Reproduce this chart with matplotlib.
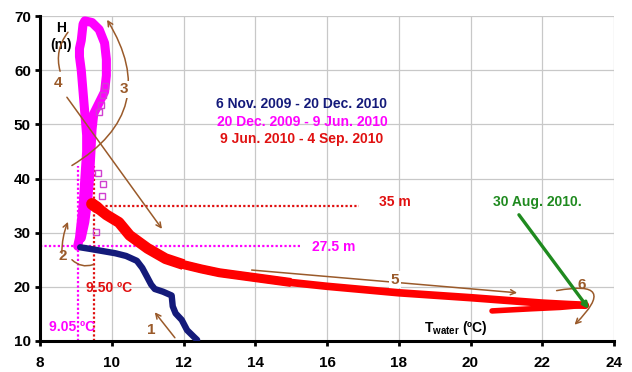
import matplotlib.pyplot as plt

plt.rcParams["font.family"] = ["Liberation Sans", "DejaVu Sans"]
plt.rcParams["font.weight"] = "bold"
plt.rcParams["mathtext.fontset"] = "custom"
plt.rcParams["mathtext.rm"] = "Liberation Sans:bold"
plt.rcParams["mathtext.bf"] = "Liberation Sans:bold"

# 6 Nov. 2009 - 20 Dec. 2010
blue_t = [9.12, 9.4, 9.75, 10.1, 10.4, 10.7, 10.85, 10.98, 11.1, 11.2, 11.43,
          11.67, 11.7, 11.78, 11.95, 12.1, 12.3, 12.38]
blue_h = [27.3, 27.0, 26.6, 26.2, 25.7, 24.8, 23.5, 21.9, 20.4, 19.6, 19.1,
          18.4, 16.4, 15.1, 13.9, 12.0, 10.7, 10.2]

# 20 Dec. 2009 - 9 Jun. 2010
mag_t = [9.05, 9.1, 9.15, 9.2, 9.25, 9.3, 9.3, 9.25, 9.2, 9.15, 9.1, 9.1,
         9.15, 9.2, 9.25, 9.45, 9.65, 9.8, 9.85, 9.85, 9.8, 9.65, 9.5,
         9.45, 9.42, 9.38, 9.33, 9.25, 9.15]
mag_h = [27.5, 29, 32, 35, 40, 45, 48, 52, 56, 60, 62.5, 64, 65.5, 68.5,
         69.1, 68.8, 67.5, 65, 62, 59, 56, 54, 52, 49, 45, 40, 36, 32, 29]
mag_sq_t = [9.62, 9.75, 9.72, 9.55, 9.75, 9.7, 9.82, 9.65]
mag_sq_h = [41.0, 39.0, 36.8, 30.1, 55.5, 53.5, 57.0, 52.3]

# 9 Jun. 2010 - 4 Sep. 2010 (warming branch, then the return after 30 Aug.)
red_t = [9.45, 9.6, 9.85, 10.2, 10.5, 11.0, 11.5, 12.0, 12.5, 13.0, 14.0,
         15.0, 16.0, 17.0, 18.0, 19.0, 20.0, 21.0, 22.0, 22.7, 23.2,
         22.5, 21.7, 21.0, 20.6]
red_h = [35.3, 34.6, 33.3, 31.9, 29.5, 27.1, 25.2, 24.1, 23.3, 22.6, 21.7,
         20.8, 20.1, 19.5, 18.9, 18.45, 18.0, 17.5, 17.0, 16.75, 16.6,
         16.2, 15.95, 15.7, 15.55]
red_turn = 20

x_ticks = [8, 10, 12, 14, 16, 18, 20, 22, 24]
y_ticks = [10, 20, 30, 40, 50, 60, 70]

t_mix_winter = 9.05
t_mix_summer = 9.50
h_mix_winter = 27.5
h_mix_summer = 35

NAVY = "#141a7a"
MAGENTA = "#ff00ff"
RED = "#ff0000"
BROWN = "#9a5a2a"
GREEN = "#1f8a1f"

fig = plt.figure(figsize=(6.32, 3.72), dpi=100)
ax = fig.add_axes([40 / 632, 31 / 372, 574 / 632, 325 / 372])

ax.set_xlim(8, 24)
ax.set_ylim(10, 70)
ax.set_xticks(x_ticks)
ax.set_yticks(y_ticks)
ax.grid(True, color="#c8c8c8", lw=0.9)
ax.set_axisbelow(True)
for s in ["top", "right"]:
    ax.spines[s].set_visible(False)
for s in ["left", "bottom"]:
    ax.spines[s].set_linewidth(2.2)
ax.tick_params(axis="both", direction="out", length=3.5, width=2, labelsize=11)
ax.tick_params(axis="x", pad=7)
ax.tick_params(axis="y", pad=3)
for lab in ax.get_xticklabels() + ax.get_yticklabels():
    lab.set_fontweight("bold")

# mixing depth / temperature markers
dots = (0, (1, 1))
ax.plot([8, 15.25], [h_mix_winter] * 2, color=MAGENTA, lw=1.6, ls=dots)
ax.plot([t_mix_winter] * 2, [10, 42.3], color=MAGENTA, lw=1.6, ls=dots)
ax.plot([9.7, 16.9], [h_mix_summer] * 2, color="#e01010", lw=1.6, ls=dots)
ax.plot([t_mix_summer] * 2, [10, 42.3], color="#e01010", lw=1.6, ls=dots)

line_kw = dict(solid_joinstyle="round", solid_capstyle="round")
ax.plot(mag_t, mag_h, color=MAGENTA, lw=6.5, zorder=3, **line_kw)
ax.plot(mag_sq_t, mag_sq_h, ls="none", marker="s", ms=4.5, mfc="none",
        mec="#d040d0", mew=1, zorder=3)
ax.plot(blue_t, blue_h, color=NAVY, lw=4.6, zorder=4, **line_kw)

# red band is thicker near the start, thinner on the return
ax.plot(red_t[:red_turn + 1], red_h[:red_turn + 1], color=RED, lw=5.5,
        zorder=4, **line_kw)
ax.plot(red_t[:12], red_h[:12], color=RED, lw=6.5, zorder=4,
        solid_capstyle="butt", solid_joinstyle="round")
ax.plot(red_t[:8], red_h[:8], color=RED, lw=7.8, zorder=4,
        solid_capstyle="butt", solid_joinstyle="round")
ax.plot(red_t[:2], red_h[:2], color=RED, lw=8.5, zorder=4, **line_kw)
ax.plot(red_t[red_turn:], red_h[red_turn:], color=RED, lw=4, zorder=4,
        **line_kw)


def arrow(tail, head, rad=0.0, style="->"):
    ax.annotate("", xy=head, xytext=tail,
                arrowprops=dict(arrowstyle=style, color=BROWN, lw=1.1,
                                mutation_scale=9, shrinkA=0, shrinkB=0,
                                connectionstyle=f"arc3,rad={rad}"),
                zorder=6)


def number(x, y, s, box=False):
    kw = dict(boxstyle="square,pad=0.1", fc="white", ec="none") if box else None
    ax.text(x, y, s, color=BROWN, fontsize=11, fontweight="bold",
            ha="center", va="center", bbox=kw, zorder=7)


arrow((11.76, 10.6), (11.2, 15.3))
number(11.1, 12.0, "1")

arrow((8.61, 26.2), (8.78, 32.0), rad=-0.1)
arrow((8.89, 25.0), (9.48, 24.1), rad=0.3, style="-")
number(8.64, 25.6, "2")

arrow((8.89, 42.4), (9.87, 69.3), rad=0.5)
number(10.35, 56.5, "3", box=True)

arrow((8.78, 67.0), (8.56, 59.8), rad=0.25, style="-")
arrow((8.75, 55.0), (11.4, 30.7))
number(8.5, 57.6, "4")

arrow((13.9, 23.1), (21.3, 18.9))
number(17.9, 21.3, "5", box=True)

arrow((22.4, 19.3), (22.9, 13.0), rad=-1.6)
number(23.1, 20.4, "6")

ax.annotate("", xy=(23.3, 15.9), xytext=(21.35, 33.3),
            arrowprops=dict(arrowstyle="-|>", color=GREEN, lw=2.4,
                            mutation_scale=8, shrinkA=0, shrinkB=0),
            zorder=8)
ax.text(21.87, 35.7, "30 Aug. 2010.", color=GREEN, fontsize=10,
        fontweight="bold", ha="center", va="center")

ax.text(15.3, 53.7, "6 Nov. 2009 - 20 Dec. 2010", color=NAVY, fontsize=10,
        fontweight="bold", ha="center", va="center")
ax.text(15.3, 50.4, "20 Dec. 2009 - 9 Jun. 2010", color=MAGENTA, fontsize=10,
        fontweight="bold", ha="center", va="center")
ax.text(15.3, 47.2, "9 Jun. 2010 - 4 Sep. 2010", color="#e01010", fontsize=10,
        fontweight="bold", ha="center", va="center")

ax.text(17.9, 35.7, "35 m", color="#e01010", fontsize=10, fontweight="bold",
        ha="center", va="center")
ax.text(16.2, 27.3, "27.5 m", color=MAGENTA, fontsize=10, fontweight="bold",
        ha="center", va="center")
ax.text(9.92, 19.8, "9.50 ºC", color="#e01010", fontsize=10,
        fontweight="bold", ha="center", va="center")
ax.text(8.9, 12.6, "9.05 ºC", color=MAGENTA, fontsize=10, fontweight="bold",
        ha="center", va="center")

ax.text(8.6, 66.2, "H\n(m)", color="black", fontsize=10, fontweight="bold",
        ha="center", va="center", linespacing=1.2)
ax.text(19.6, 12.4, r"$\mathbf{T_{water}}$ (ºC)", color="black", fontsize=10,
        fontweight="bold", ha="center", va="center")

fig.savefig("out.png", dpi=100)
